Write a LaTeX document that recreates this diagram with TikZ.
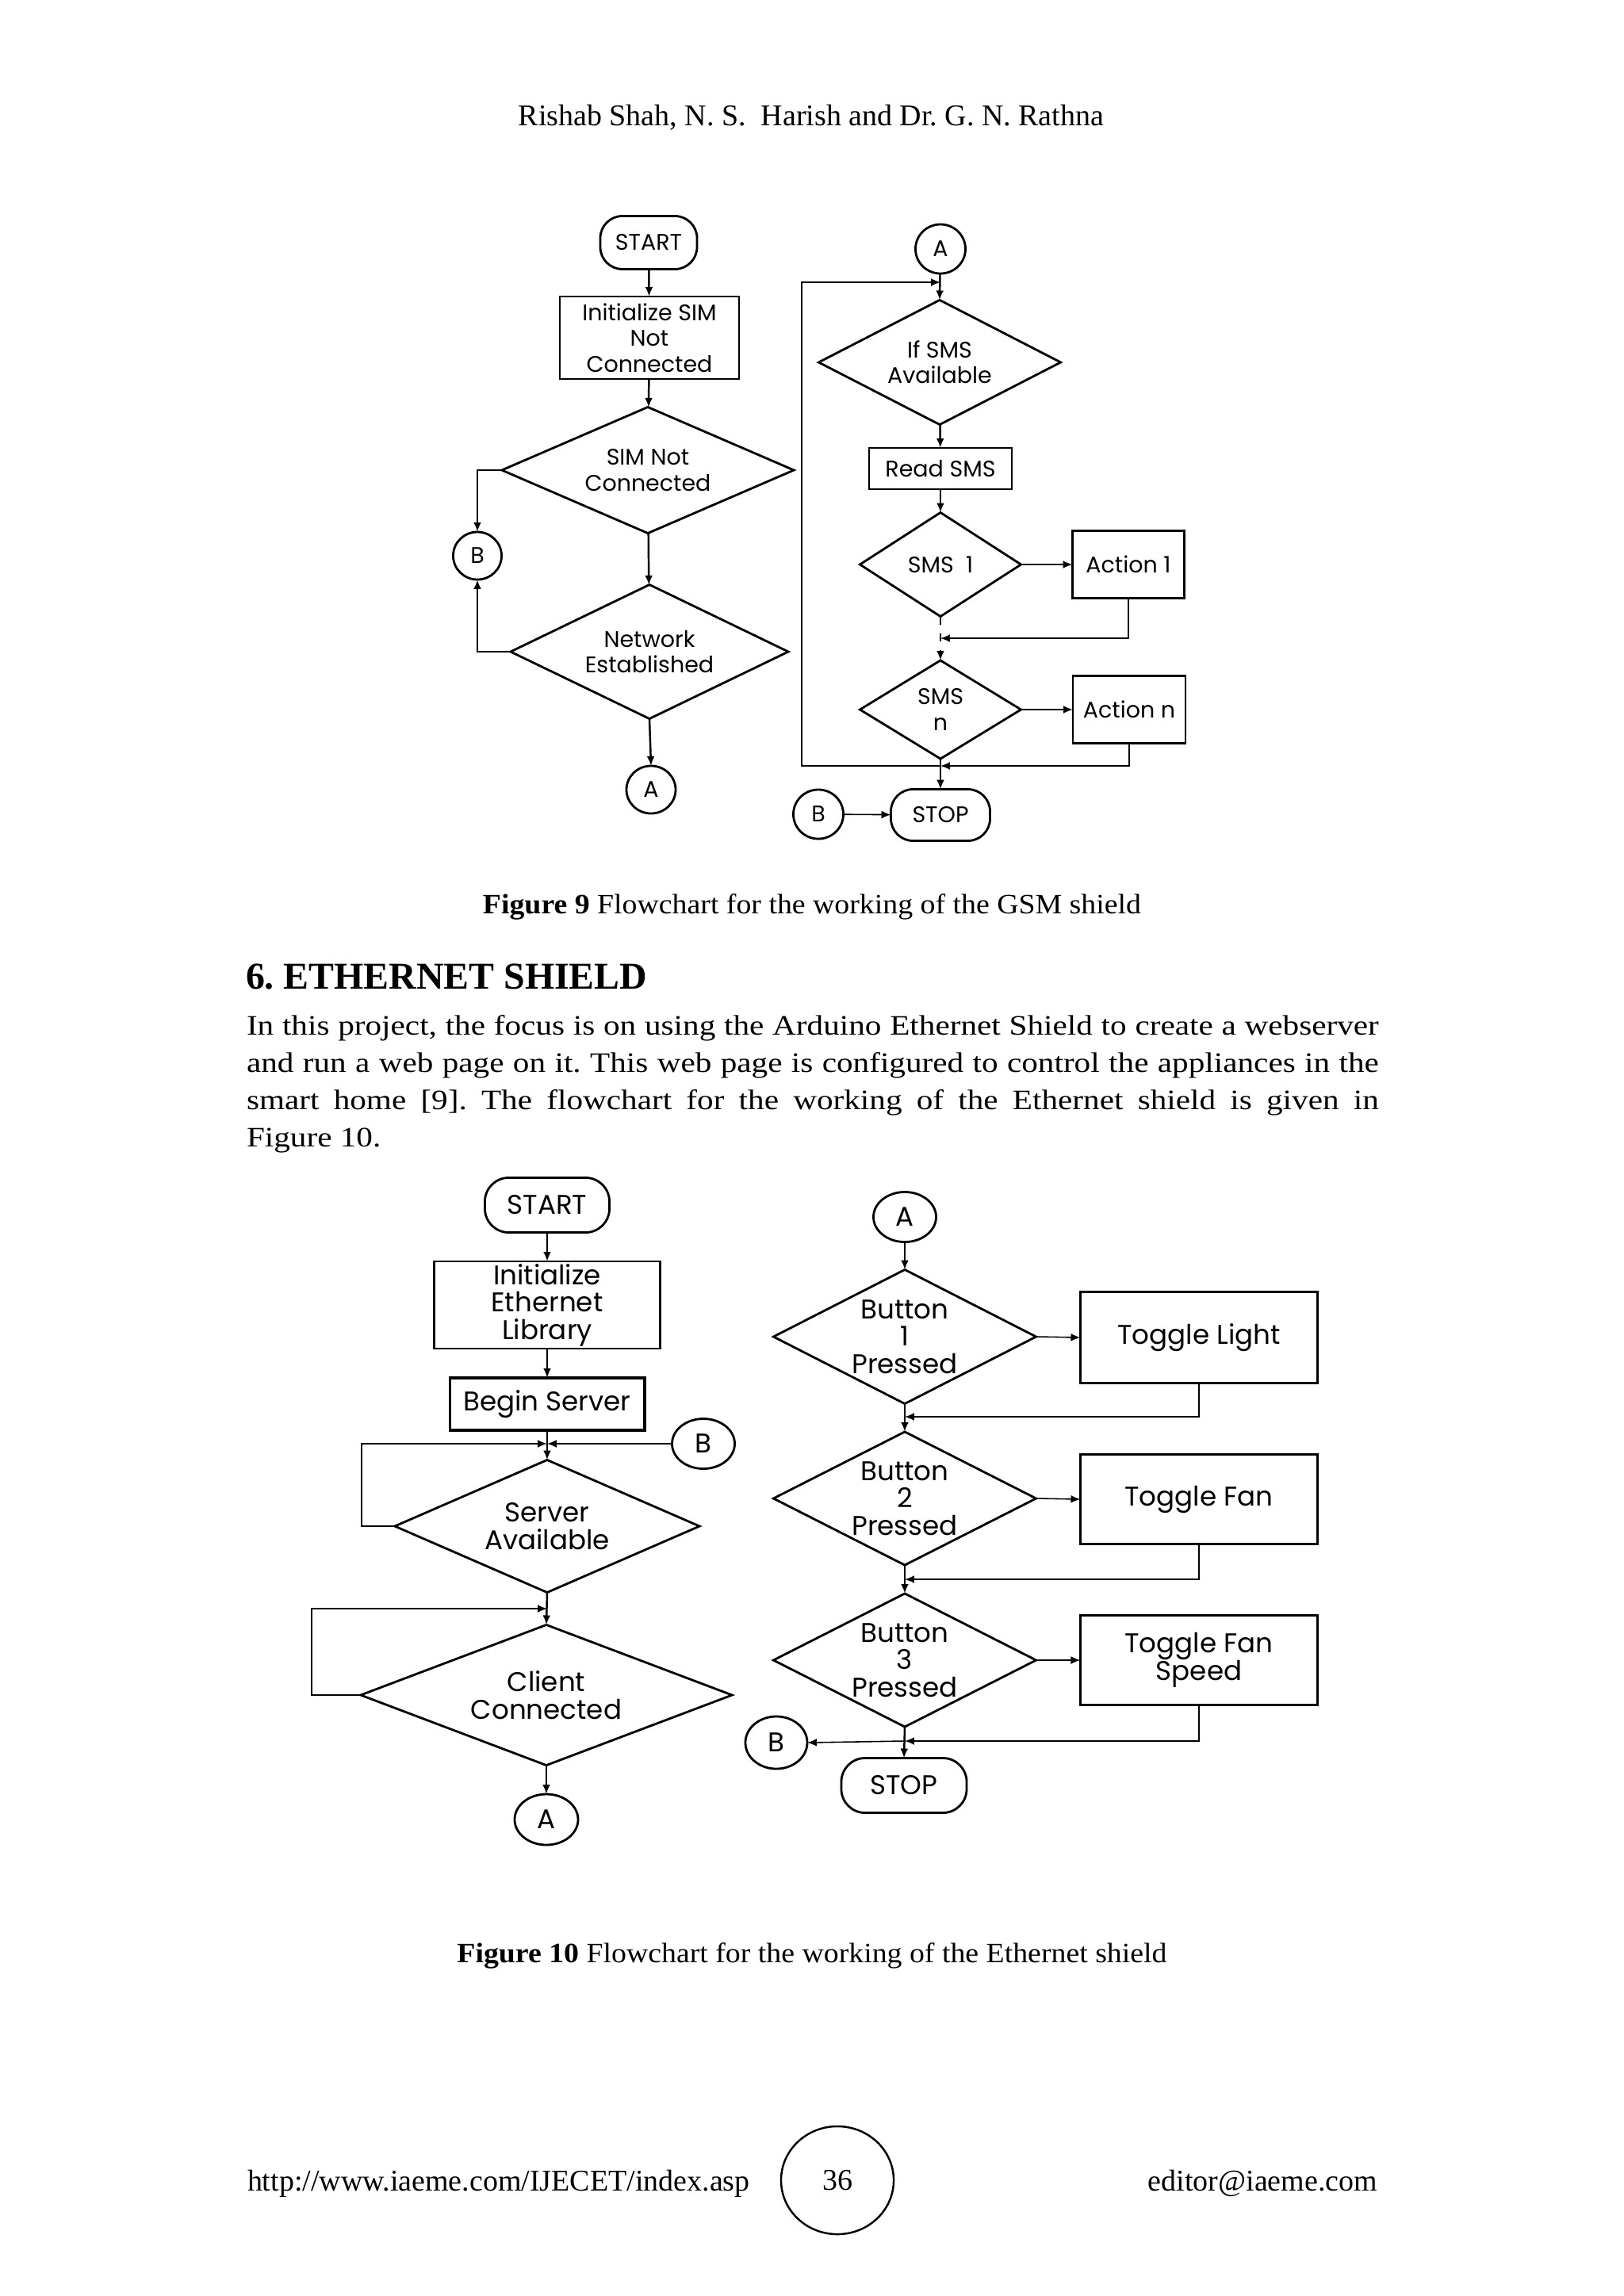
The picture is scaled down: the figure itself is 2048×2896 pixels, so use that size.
\documentclass[tikz,border=0pt]{standalone}
\usepackage{fontspec}
\setmainfont{Liberation Serif}
\newfontfamily\bodyfont[FakeStretch=1.16]{Liberation Serif}
\newfontfamily\capfont[FakeStretch=1.07]{Liberation Serif}
\newfontfamily\flow{Poppins}
\usetikzlibrary{shapes.geometric,arrows.meta,calc}
\frenchspacing
\begin{document}
\begin{tikzpicture}[x=0.01cm,y=-0.01cm,
  every node/.style={inner sep=0pt,outer sep=0pt},
  fa/.style={font=\flow\fontsize{8.1}{9.2}\selectfont},
  fb/.style={font=\flow\fontsize{9.7}{9.8}\selectfont},
  tnr/.style={font=\fontsize{10.8}{13}\selectfont},
  capt/.style={font=\capfont\fontsize{10.05}{13}\selectfont},
  bodyt/.style={font=\bodyfont\fontsize{10.1}{13}\selectfont},
  pbox/.style 2 args={draw,line width=0.8pt,minimum width=#1,minimum height=#2,align=center},
  term/.style 2 args={draw,line width=0.8pt,rounded corners=0.28cm,minimum width=#1,minimum height=#2,align=center},
  dia/.style 2 args={draw,diamond,line width=0.8pt,minimum width=#1,minimum height=#2},
  conn/.style 2 args={draw,ellipse,line width=0.8pt,minimum width=#1,minimum height=#2},
  arr/.style={-{Latex[length=3.4pt,width=2.8pt]},line width=0.7pt},
  tarr/.style={-{Latex[length=3.4pt,width=2.8pt]},line width=0.45pt},
  tline/.style={line width=0.45pt}]
\useasboundingbox (0,0) rectangle (2048,2896);
\fill[white] (0,0) rectangle (2048,2896);

% ---------- page text ----------
\node[tnr,anchor=base] (hdr) at (1023,158) {Rishab Shah, N. S.\ \ Harish and Dr. G. N. Rathna};
\node[capt,anchor=base] (cap9) at (1024,1152) {\textbf{Figure 9} Flowchart for the working of the GSM shield};
\node[font=\bfseries\fontsize{13.6}{16}\selectfont,anchor=base west] (sec) at (310,1247) {6. ETHERNET SHIELD};
\node[bodyt,anchor=base west] (p1) at (311,1305) {\hbox to 14.27cm{In this project, the focus is on using the Arduino Ethernet Shield to create a webserver}};
\node[bodyt,anchor=base west] (p2) at (311,1352) {\hbox to 14.27cm{and run a web page on it. This web page is configured to control the appliances in the}};
\node[bodyt,anchor=base west] (p3) at (311,1399) {\hbox to 14.27cm{smart home [9]. The flowchart for the working of the Ethernet shield is given in}};
\node[bodyt,anchor=base west] (p4) at (311,1446) {Figure 10.};
\node[capt,anchor=base] (cap10) at (1024,2475) {\textbf{Figure 10} Flowchart for the working of the Ethernet shield};
\node[tnr,anchor=base west] (url) at (312,2763) {http://www.iaeme.com/IJECET/index.asp};
\node[tnr,anchor=base east] (mail) at (1737,2763) {editor@iaeme.com};
\node[tnr,draw,ellipse,line width=0.7pt,minimum width=1.42cm,minimum height=1.36cm] (pg) at (1056,2750) {36};

% ---------- Figure 9 ----------
\begin{scope}[fa]
\node[term={1.22cm}{0.67cm}] (s9) at (818,306) {START};
\node[pbox={2.26cm}{1.04cm}] (i9) at (819,426) {Initialize SIM\\Not\\Connected};
\node[dia={3.68cm}{1.59cm},label={[fa,align=center]center:{SIM Not\\Connected}}] (d9a) at (817,593) {};
\node[conn={0.61cm}{0.60cm}] (b9L) at (602,701) {B};
\node[dia={3.50cm}{1.69cm},label={[fa,align=center]center:{Network\\Established}}] (d9b) at (819,822) {};
\node[conn={0.62cm}{0.60cm}] (a9L) at (821,996) {A};

\draw[arr] (s9) -- (i9);
\draw[arr] (i9) -- (d9a);
\draw[arr] (d9a) -- (d9b);
\draw[arr] (d9a.west) -| (b9L.north);
\draw[arr] (d9b.west) -| (b9L.south);
\draw[arr] (d9b.south) -- (a9L.north);

\node[conn={0.63cm}{0.62cm}] (a9R) at (1186,314) {A};
\node[dia={3.05cm}{1.57cm},label={[fa,align=center]center:{If SMS\\Available}}] (d9c) at (1185,457) {};
\node[pbox={1.80cm}{0.52cm}] (r9) at (1186,591) {Read SMS};
\node[dia={2.03cm}{1.31cm},label={[fa,align=center]center:{SMS\ \ 1}}] (d9d) at (1186,712) {};
\node[pbox={1.41cm}{0.85cm}] (ac1) at (1423,712) {Action 1};
\node[dia={2.03cm}{1.24cm},label={[fa,align=center]center:{SMS\\n}}] (d9e) at (1186,895) {};
\node[pbox={1.42cm}{0.85cm}] (acn) at (1424,895) {Action n};
\node[term={1.25cm}{0.65cm}] (stop9) at (1186,1028) {STOP};
\node[conn={0.63cm}{0.62cm}] (b9R) at (1032,1027) {B};

\coordinate (j1) at (1186,356);
\coordinate (j2) at (1186,805);
\coordinate (j3) at (1186,966);
\coordinate (l9b) at (1011,966);
\coordinate (l9t) at (1011,356);

\draw[arr] (a9R) -- (d9c.north);
\draw[tarr] (j3) -- (l9b) -- (l9t) -- (j1);
\draw[arr] (d9c) -- (r9);
\draw[arr] (r9) -- (d9d);
\draw[tarr] (d9d.east) -- (ac1.west);
\draw[tarr] (ac1.south) |- (j2);
\draw[arr,dashed] (d9d.south) -- (d9e.north);
\draw[tarr] (d9e.east) -- (acn.west);
\draw[tarr] (acn.south) |- (j3);
\draw[arr] (d9e.south) -- (stop9.north);
\draw[tarr] (b9R) -- (stop9);
\end{scope}

% ---------- Figure 10 ----------
\begin{scope}[fb]
\node[term={1.57cm}{0.69cm},rounded corners=0.3cm] (s10) at (690,1520) {START};
\node[pbox={2.85cm}{1.10cm}] (i10) at (690,1646) {\raisebox{-2pt}{\parbox{2.8cm}{\centering Initialize\\Ethernet\\Library}}};
\node[pbox={2.45cm}{0.66cm},line width=1.1pt] (bs10) at (690,1771) {Begin Server};
\node[conn={0.79cm}{0.63cm}] (b10R) at (887,1821) {B};
\node[dia={3.84cm}{1.67cm},label={[fb,align=center]center:{Server\\Available}}] (d10a) at (690,1925) {};
\node[dia={4.68cm}{1.77cm},label={[fb,align=center]center:{Client\\Connected}}] (d10b) at (689,2138) {};
\node[conn={0.80cm}{0.64cm}] (a10L) at (689,2295) {A};

\coordinate (k1) at (690,1821);
\coordinate (k2) at (690,2029);
\coordinate (q1) at (456,1925);
\coordinate (q2) at (456,1821);
\coordinate (q3) at (393,2138);
\coordinate (q4) at (393,2029);

\draw[arr] (s10) -- (i10);
\draw[arr] (i10) -- (bs10);
\draw[arr] (bs10.south) -- (d10a.north);
\draw[tarr] (d10a.west) -- (q1) -- (q2) -- (k1);
\draw[tarr] (b10R.west) -- (k1);
\draw[arr] (d10a.south) -- (d10b.north);
\draw[tarr] (d10b.west) -- (q3) -- (q4) -- (k2);
\draw[arr] (d10b.south) -- (a10L.north);

\node[conn={0.79cm}{0.63cm}] (a10R) at (1141,1535) {A};
\node[dia={3.31cm}{1.69cm},label={[fb,align=center]center:{Button\\1\\Pressed}}] (d10c) at (1141,1686) {};
\node[pbox={2.99cm}{1.15cm}] (t1) at (1512,1687) {Toggle Light};
\node[dia={3.31cm}{1.68cm},label={[fb,align=center]center:{Button\\2\\Pressed}}] (d10d) at (1141,1890) {};
\node[pbox={2.99cm}{1.13cm}] (t2) at (1512,1891) {Toggle Fan};
\node[dia={3.31cm}{1.68cm},label={[fb,align=center]center:{Button\\3\\Pressed}}] (d10e) at (1141,2094) {};
\node[pbox={2.99cm}{1.13cm}] (t3) at (1512,2094) {Toggle Fan\\Speed};
\node[term={1.58cm}{0.69cm},rounded corners=0.3cm] (stop10) at (1140,2252) {STOP};
\node[conn={0.78cm}{0.66cm}] (b10L) at (979,2198) {B};

\coordinate (m1) at (1141,1787);
\coordinate (m2) at (1141,1992);
\coordinate (m3) at (1141,2196);

\draw[arr] (a10R) -- (d10c.north);
\draw[tarr] (d10c.east) -- (t1.west);
\draw[tarr] (t1.south) |- (m1);
\draw[arr] (d10c.south) -- (d10d.north);
\draw[tarr] (d10d.east) -- (t2.west);
\draw[tarr] (t2.south) |- (m2);
\draw[arr] (d10d.south) -- (d10e.north);
\draw[tarr] (d10e.east) -- (t3.west);
\draw[tarr] (t3.south) |- (m3);
\draw[arr] (d10e.south) -- (stop10.north);
\draw[tarr] (m3) -- (b10L.east);
\end{scope}
\end{tikzpicture}
\end{document}
